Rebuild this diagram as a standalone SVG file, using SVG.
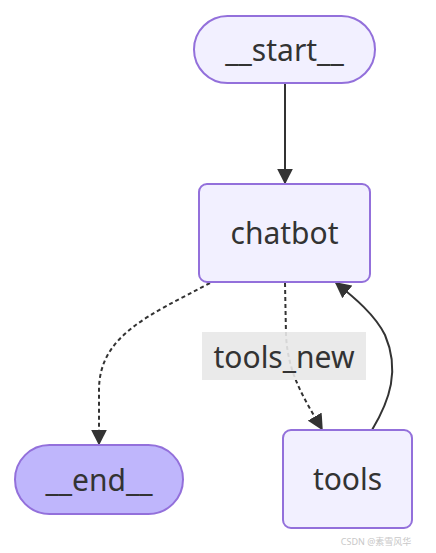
<svg xmlns="http://www.w3.org/2000/svg" width="436" height="553" viewBox="0 0 436 553">
<style>
.node rect{fill:#f2f0ff;stroke:#9370db;stroke-width:2}
.node.last rect{fill:#bfb6fc}
.node text{font-family:"Noto Sans","Open Sans",sans-serif;font-size:30px;fill:#333;text-anchor:middle;dominant-baseline:central}
.edge{fill:none;stroke:#333;stroke-width:2}
.dash{stroke-dasharray:4 3}
.lbl text{font-family:"Noto Sans","Open Sans",sans-serif;font-size:30px;fill:#333;text-anchor:middle;dominant-baseline:central}
</style>
<defs>
<marker id="arrL" viewBox="0 0 10 10" refX="9" refY="5" markerWidth="16" markerHeight="16" markerUnits="userSpaceOnUse" orient="auto">
<path d="M0,0 L10,5 L0,10 z" fill="#333"/>
</marker>
</defs>
<g id="edges">
<path class="edge" d="M285,84 L285,183" marker-end="url(#arrL)"/>
<path class="edge dash" d="M210,283 C150,315 99,335 99,390 L99,444" marker-end="url(#arrL)"/>
<path class="edge dash" d="M285,283 L286,335 C288,375 305,400 322,429" marker-end="url(#arrL)"/>
<path class="edge" d="M372,430 C390,400 400,370 385,335 C375,315 355,298 336,283" marker-end="url(#arrL)"/>
</g>
<g id="label-tools_new" class="lbl">
<rect x="202" y="332" width="164" height="48" fill="#e8e8e8" opacity="0.9"/>
<text x="284" y="356">tools_new</text>
</g>
<g id="node-start" class="node">
<rect x="194" y="16" width="181" height="67" rx="33.5"/>
<text x="284.5" y="49">__start__</text>
</g>
<g id="node-chatbot" class="node">
<rect x="199" y="184" width="171" height="98" rx="8"/>
<text x="284.5" y="232">chatbot</text>
</g>
<g id="node-end" class="node last">
<rect x="15" y="445" width="168" height="69" rx="34.5"/>
<text x="99" y="479">__end__</text>
</g>
<g id="node-tools" class="node">
<rect x="283" y="430" width="129" height="98" rx="8"/>
<text x="347.5" y="478">tools</text>
</g>
<text x="376" y="541" font-family="'Noto Sans','Noto Sans CJK SC',sans-serif" font-size="9" fill="#c8c8c8" text-anchor="middle" dominant-baseline="central">CSDN @素雪风华</text>
</svg>
